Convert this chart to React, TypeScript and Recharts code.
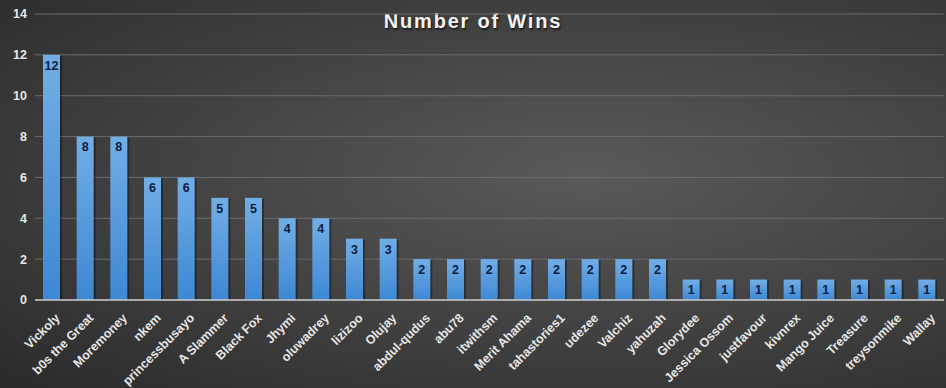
import { Bar, BarChart, CartesianGrid, LabelList, XAxis, YAxis } from "recharts";

const players = [
  "Vickoly", "b0s the Great", "Moremoney", "nkem", "princessbusayo", "A Slammer", "Black Fox",
  "Jhymi", "oluwadrey", "lizizoo", "Olujay", "abdul-qudus", "abu78", "itwithsm", "Merit Ahama",
  "tahastories1", "udezee", "Valchiz", "yahuzah", "Glorydee", "Jessica Ossom", "justfavour",
  "kivnrex", "Mango Juice", "Treasure", "treysonmike", "Wallay",
];
const wins = [12, 8, 8, 6, 6, 5, 5, 4, 4, 3, 3, 2, 2, 2, 2, 2, 2, 2, 2, 1, 1, 1, 1, 1, 1, 1, 1];
const yTicks = [0, 2, 4, 6, 8, 10, 12, 14];

const data = players.map((name, i) => ({ name, wins: wins[i] }));

const TEXT = "#e6e6e6";
const FONT = "'Liberation Sans', Arial, sans-serif";

function NameTick(props: any) {
  const { x, y, payload } = props;
  return (
    <g transform={`translate(${x + 2},${y + 4})`}>
      <text
        transform="rotate(-45)"
        textAnchor="end"
        dy={9.5}
        fill={TEXT}
        fontSize={12.5}
        fontWeight="bold"
        fontFamily={FONT}
      >
        {payload.value}
      </text>
    </g>
  );
}

function ShadedBar(props: any) {
  const { x, y, width, height } = props;
  if (!height || height <= 0) return null;
  return (
    <g>
      <rect x={x + 2} y={y + 1} width={width} height={height - 1} fill="rgba(0,0,0,0.35)" />
      <rect x={x} y={y} width={width} height={height} fill="url(#barFill)" />
    </g>
  );
}

export default function App() {
  return (
    <div
      style={{
        position: "relative",
        width: 946,
        height: 388,
        background: "radial-gradient(ellipse at 62% 45%, #5a5a5a 0%, #474747 40%, #2a2a2a 100%)",
        fontFamily: FONT,
      }}
    >
      <style>{`body{margin:0}`}</style>
      <svg width={0} height={0} style={{ position: "absolute" }}>
        <defs>
          <linearGradient id="barFill" x1="0" y1="0" x2="0" y2="1">
            <stop offset="0%" stopColor="#72aee6" />
            <stop offset="100%" stopColor="#3d88d4" />
          </linearGradient>
        </defs>
      </svg>
      <div
        style={{
          position: "absolute",
          top: 10,
          left: 0,
          width: 946,
          textAlign: "center",
          color: "#f2f2f2",
          fontSize: 20,
          fontWeight: "bold",
          letterSpacing: 1.8,
          textShadow: "1px 2px 2px rgba(0,0,0,0.6)",
        }}
      >
        Number of Wins
      </div>
      <div style={{ position: "absolute", top: 0, left: 0 }}>
        <BarChart
          width={946}
          height={388}
          data={data}
          barSize={17}
          margin={{ top: 14, right: 2, bottom: 0, left: 0 }}
        >
          <CartesianGrid vertical={false} stroke="#6b6b6b" strokeWidth={1} />
          <XAxis
            dataKey="name"
            interval={0}
            tick={<NameTick />}
            tickLine={false}
            axisLine={{ stroke: "#c8c8c8", strokeWidth: 1.5 }}
            height={88}
          />
          <YAxis
            domain={[0, 14]}
            ticks={yTicks}
            width={35}
            axisLine={false}
            tickLine={false}
            tick={{ fill: TEXT, fontSize: 12.5, fontWeight: "bold", fontFamily: FONT }}
          />
          <Bar dataKey="wins" fill="#4a90d9" shape={<ShadedBar />} isAnimationActive={false}>
            <LabelList
              dataKey="wins"
              position="insideTop"
              offset={6}
              fill="#0b1d3f"
              fontSize={12.5}
              fontWeight="bold"
              fontFamily={FONT}
            />
          </Bar>
        </BarChart>
      </div>
    </div>
  );
}
